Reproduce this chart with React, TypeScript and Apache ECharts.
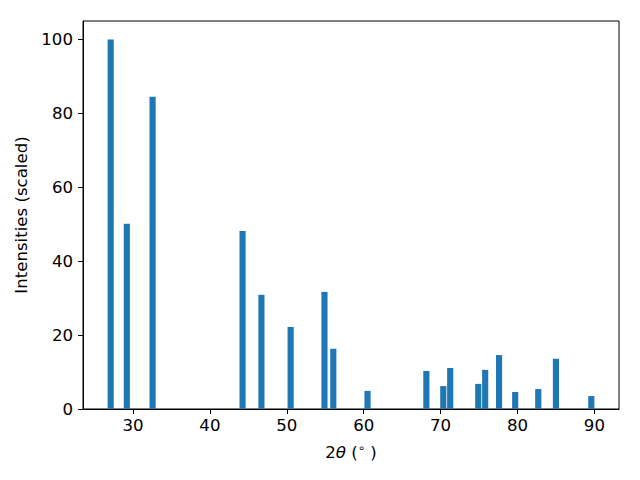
import React, { useEffect, useRef } from "react";
import * as echarts from "echarts";

const twoTheta = [27.1, 29.2, 32.55, 44.25, 46.7, 50.5, 54.9, 56.05, 60.5, 68.15, 70.35, 71.25, 74.9, 75.8, 77.6, 79.7, 82.7, 85.0, 89.6];
const intensity = [100, 50.1, 84.5, 48.2, 30.9, 22.2, 31.7, 16.3, 4.9, 10.3, 6.2, 11.1, 6.8, 10.6, 14.6, 4.6, 5.4, 13.6, 3.5];
const xTicks = [30, 40, 50, 60, 70, 80, 90];
const yTicks = [0, 20, 40, 60, 80, 100];

const BAR_W = 0.8;
const FONT = "DejaVu Sans";
const FS = 16.6;

export default function App() {
  const ref = useRef<HTMLDivElement>(null);
  useEffect(() => {
    if (!ref.current) return;
    const chart = echarts.init(ref.current, undefined, { renderer: "svg" });
    const data = twoTheta.map((x, i) => [x, intensity[i]]);
    chart.setOption({
      animation: false,
      grid: {
        left: 83,
        right: 21,
        top: 21,
        bottom: 71,
        show: true,
        borderColor: "#000",
        borderWidth: 1,
        backgroundColor: "transparent",
      },
      xAxis: {
        type: "value",
        min: 23.5,
        max: 93.2,
        name: "2{i|θ} ({s|∘} )",
        nameLocation: "middle",
        nameGap: 33,
        nameTextStyle: {
          fontFamily: FONT,
          fontSize: FS,
          color: "#000",
          rich: {
            i: { fontFamily: FONT, fontSize: FS, fontStyle: "italic", color: "#000" },
            s: { fontFamily: FONT, fontSize: 11.5, color: "#000", verticalAlign: "top", padding: [0, 0, 8, 0] },
          },
        },
        axisLine: { show: true, onZero: false, lineStyle: { color: "#000", width: 1 } },
        axisTick: { show: true, length: 5, inside: false, customValues: xTicks, lineStyle: { color: "#000" } },
        axisLabel: { customValues: xTicks, fontFamily: FONT, fontSize: FS, color: "#000", margin: 8 },
        splitLine: { show: false },
      },
      yAxis: {
        type: "value",
        min: 0,
        max: 105,
        name: "Intensities (scaled)",
        nameLocation: "middle",
        nameGap: 47,
        nameRotate: 90,
        nameTextStyle: { fontFamily: FONT, fontSize: FS, color: "#000" },
        axisLine: { show: true, onZero: false, lineStyle: { color: "#000", width: 1 } },
        axisTick: { show: true, length: 5, inside: false, customValues: yTicks, lineStyle: { color: "#000" } },
        axisLabel: { customValues: yTicks, fontFamily: FONT, fontSize: FS, color: "#000", margin: 10 },
        splitLine: { show: false },
      },
      series: [
        {
          type: "custom",
          data,
          encode: { x: 0, y: 1 },
          renderItem: (params: any, api: any) => {
            const x = api.value(0);
            const y = api.value(1);
            const p0 = api.coord([x - BAR_W / 2, y]);
            const p1 = api.coord([x + BAR_W / 2, 0]);
            return {
              type: "rect",
              shape: { x: p0[0], y: p0[1], width: p1[0] - p0[0], height: p1[1] - p0[1] },
              style: { fill: "#1f77b4" },
            };
          },
        },
      ],
    });
    return () => chart.dispose();
  }, []);
  return <div ref={ref} style={{ width: 640, height: 480, position: "absolute", left: 0, top: 0 }} />;
}
